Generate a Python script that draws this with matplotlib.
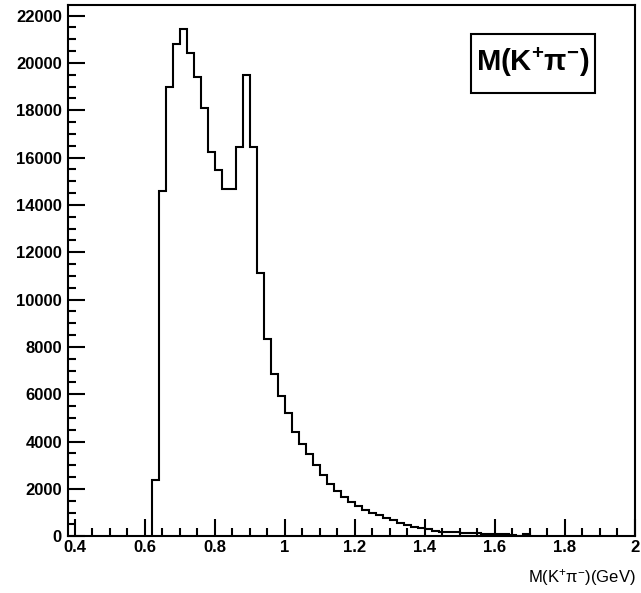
import numpy as np
import matplotlib
matplotlib.use("Agg")
import matplotlib.pyplot as plt
from matplotlib.patches import Rectangle
from matplotlib.ticker import MultipleLocator, FixedFormatter, FixedLocator

plt.rcParams['font.family'] = ['Liberation Sans', 'DejaVu Sans']

# K+ pi- invariant mass, 0.02 GeV bins starting at 0.62 GeV
bin_start = 0.62
bin_width = 0.02
counts = [
    2380, 14600, 18970, 20800, 21420, 20430, 19400, 18110, 16230, 15480,
    14680, 14680, 16460, 19480, 16460, 11140, 8330, 6860, 5910, 5210,
    4420, 3900, 3475, 3020, 2585, 2230, 1900, 1650, 1450, 1270,
    1120, 990, 880, 770, 670, 580, 480, 410, 340, 300,
    240, 200, 170, 165, 160, 160, 150, 90, 85, 80,
    80, 75, 0, 80,
]
x_ticks = [0.4, 0.6, 0.8, 1.0, 1.2, 1.4, 1.6, 1.8, 2.0]
x_labels = ['0.4', '0.6', '0.8', '1', '1.2', '1.4', '1.6', '1.8', '2']
y_ticks = list(range(0, 22001, 2000))

edges = np.round(bin_start + bin_width * np.arange(len(counts) + 1), 3)

W, H = 641, 593
fig = plt.figure(figsize=(W / 100, H / 100), dpi=100)
ax = fig.add_axes([67.5 / W, (H - 536.3) / H, (635 - 67.5) / W, (536.3 - 5) / H])

ax.stairs(counts, edges, baseline=0, color='black', linewidth=1.5)

ax.set_xlim(0.38, 2.0)
ax.set_ylim(0, 22450)

ax.xaxis.set_major_locator(FixedLocator(x_ticks))
ax.xaxis.set_major_formatter(FixedFormatter(x_labels))
ax.xaxis.set_minor_locator(MultipleLocator(0.05))
ax.yaxis.set_major_locator(FixedLocator(y_ticks))
ax.yaxis.set_minor_locator(MultipleLocator(500))

ax.tick_params(which='both', direction='in', top=False, right=False, width=1.5,
               labelsize=12)
ax.tick_params(which='major', length=12)
ax.tick_params(which='minor', length=6)
for lab in ax.get_xticklabels() + ax.get_yticklabels():
    lab.set_fontweight('bold')
ax.tick_params(axis='x', pad=3)
ax.tick_params(axis='y', pad=4)

for sp in ax.spines.values():
    sp.set_linewidth(1.5)

# axis title at lower right
fig.text(636 / W, 1 - 577 / H, r'M(K$\mathregular{^{+}}$π$\mathregular{^{-}}$)(GeV)',
         ha='right', va='center', fontsize=12)

# boxed label in the upper right corner
box = Rectangle((471 / W, 1 - 93 / H), (595 - 471) / W, (93 - 34) / H,
                transform=fig.transFigure, fill=False, edgecolor='black', linewidth=1.5)
fig.patches.append(box)
fig.text(533 / W, 1 - 62 / H, r'M(K$\mathregular{^{+}}$π$\mathregular{^{-}}$)',
         ha='center', va='center', fontsize=21, fontweight='bold')

fig.savefig('out.png', dpi=100)
